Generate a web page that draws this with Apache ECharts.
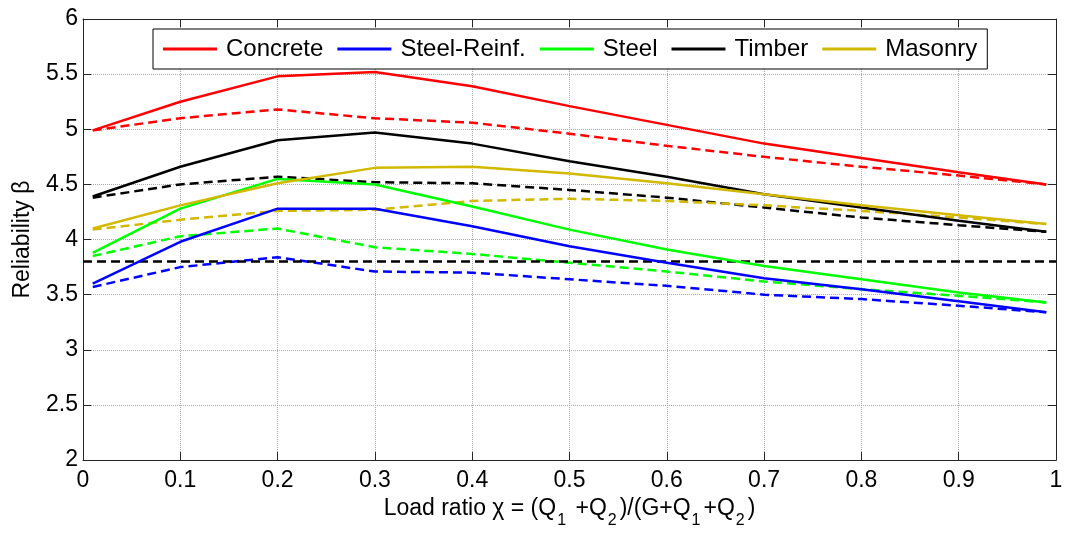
<!DOCTYPE html>
<html>
<head>
<meta charset="utf-8">
<script src="https://cdn.jsdelivr.net/npm/echarts@6/dist/echarts.min.js"></script>
<style>
  html, body { margin: 0; padding: 0; background: #fff; }
  #chart { width: 1067px; height: 534px; }
</style>
</head>
<body>
<div id="chart"></div>
<script>
// Load ratio positions shared by every curve
const loadRatio = [0.01, 0.1, 0.2, 0.3, 0.4, 0.5, 0.6, 0.7, 0.8, 0.9, 0.99];

// Reliability index, solid curves
const concreteSolid = [4.99, 5.25, 5.48, 5.52, 5.39, 5.21, 5.04, 4.87, 4.74, 4.61, 4.50];
const steelReinfSolid = [3.60, 3.98, 4.28, 4.28, 4.12, 3.94, 3.79, 3.65, 3.55, 3.44, 3.34];
const steelSolid = [3.88, 4.28, 4.55, 4.50, 4.30, 4.09, 3.91, 3.76, 3.64, 3.52, 3.43];
const timberSolid = [4.39, 4.66, 4.90, 4.97, 4.87, 4.71, 4.57, 4.41, 4.29, 4.17, 4.07];
const masonrySolid = [4.10, 4.31, 4.51, 4.65, 4.66, 4.60, 4.51, 4.41, 4.31, 4.22, 4.14];

// Reliability index, dashed curves
const concreteDashed = [4.99, 5.10, 5.18, 5.10, 5.06, 4.96, 4.85, 4.75, 4.66, 4.58, 4.50];
const steelReinfDashed = [3.57, 3.75, 3.84, 3.71, 3.70, 3.64, 3.58, 3.50, 3.46, 3.40, 3.34];
const steelDashed = [3.85, 4.03, 4.10, 3.93, 3.87, 3.79, 3.71, 3.62, 3.55, 3.49, 3.43];
const timberDashed = [4.38, 4.50, 4.57, 4.52, 4.51, 4.45, 4.38, 4.29, 4.20, 4.13, 4.07];
const masonryDashed = [4.09, 4.18, 4.26, 4.27, 4.35, 4.37, 4.35, 4.31, 4.26, 4.20, 4.14];

// Target reliability level
const targetX = [0, 1];
const targetBeta = 3.8;

const materials = ['Concrete', 'Steel-Reinf.', 'Steel', 'Timber', 'Masonry'];
const colors = ['#ff0000', '#0000ff', '#00ff00', '#000000', '#d2b900'];
const solidSets = [concreteSolid, steelReinfSolid, steelSolid, timberSolid, masonrySolid];
const dashedSets = [concreteDashed, steelReinfDashed, steelDashed, timberDashed, masonryDashed];

const FONT = "'Liberation Sans', Arial, sans-serif";
const AXIS_COLOR = '#262626';

const pair = (xs, ys) => xs.map((x, i) => [x, ys[i]]);
const fmt = v => String(+v.toFixed(1));

const series = [];
materials.forEach((name, i) => {
  series.push({
    name: name + ' lower',
    type: 'line',
    data: pair(loadRatio, dashedSets[i]),
    symbol: 'none',
    lineStyle: { color: colors[i], width: 2.5, type: [9, 5] },
    itemStyle: { color: colors[i] },
    animation: false
  });
});
series.push({
  name: 'Target',
  type: 'line',
  data: targetX.map(x => [x, targetBeta]),
  symbol: 'none',
  lineStyle: { color: '#000', width: 2.5, type: [9, 5] },
  animation: false
});
materials.forEach((name, i) => {
  series.push({
    name: name,
    type: 'line',
    data: pair(loadRatio, solidSets[i]),
    symbol: 'none',
    lineStyle: { color: colors[i], width: 2.5 },
    itemStyle: { color: colors[i] },
    animation: false
  });
});

const gridLine = { show: true, lineStyle: { color: '#a8a8a8', type: [1, 1], width: 1 } };
const tickIn = { show: true, inside: true, length: 8, lineStyle: { color: AXIS_COLOR } };

// Rich text styles for the subscripted axis title
const subRich = {
  m: { fontSize: 23, fontFamily: FONT, color: '#000', lineHeight: 26, verticalAlign: 'top' },
  s: { fontSize: 16, fontFamily: FONT, color: '#000', lineHeight: 16, padding: [16, 3, 0, 1], verticalAlign: 'top' }
};

const option = {
  backgroundColor: '#fff',
  animation: false,
  grid: { left: 83, right: 11, top: 19, bottom: 73, containLabel: false },
  legend: {
    data: materials,
    icon: 'rect',
    left: 153,
    top: 29,
    orient: 'horizontal',
    itemWidth: 54,
    itemHeight: 3,
    itemGap: 14,
    padding: [7, 10, 7, 10],
    backgroundColor: '#fff',
    borderColor: '#000',
    borderWidth: 1,
    borderRadius: 0,
    textStyle: { fontSize: 24, fontFamily: FONT, color: '#000', lineHeight: 26, padding: [0, 0, 0, 4] }
  },
  xAxis: [
    {
      type: 'value', position: 'bottom', min: 0, max: 1, interval: 0.1,
      axisLine: { show: true, onZero: false, lineStyle: { color: AXIS_COLOR, width: 1 } },
      axisTick: tickIn,
      splitLine: gridLine,
      axisLabel: { fontSize: 23, fontFamily: FONT, color: '#000', margin: 9, formatter: fmt },
      name: '{m|Load ratio χ = (Q}{s|1}{m| +Q}{s|2}{m|)/(G+Q}{s|1}{m|+Q}{s|2}{m|)}',
      nameLocation: 'middle',
      nameGap: 35,
      nameTextStyle: { rich: subRich }
    },
    {
      type: 'value', position: 'top', min: 0, max: 1, interval: 0.1,
      axisLine: { show: true, onZero: false, lineStyle: { color: AXIS_COLOR, width: 1 } },
      axisTick: tickIn,
      axisLabel: { show: false },
      splitLine: { show: false }
    }
  ],
  yAxis: [
    {
      type: 'value', position: 'left', min: 2, max: 6, interval: 0.5,
      axisLine: { show: true, onZero: false, lineStyle: { color: AXIS_COLOR, width: 1 } },
      axisTick: tickIn,
      splitLine: gridLine,
      axisLabel: { fontSize: 23, fontFamily: FONT, color: '#000', margin: 5, formatter: fmt },
      name: 'Reliability β',
      nameLocation: 'middle',
      nameGap: 49,
      nameTextStyle: { fontSize: 23, fontFamily: FONT, color: '#000' }
    },
    {
      type: 'value', position: 'right', min: 2, max: 6, interval: 0.5,
      axisLine: { show: true, onZero: false, lineStyle: { color: AXIS_COLOR, width: 1 } },
      axisTick: tickIn,
      axisLabel: { show: false },
      splitLine: { show: false }
    }
  ],
  series: series
};

const chart = echarts.init(document.getElementById('chart'), null, { renderer: 'canvas' });
chart.setOption(option);
</script>
</body>
</html>
